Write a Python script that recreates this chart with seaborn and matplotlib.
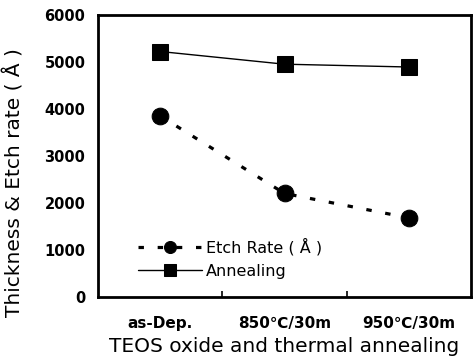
import matplotlib
matplotlib.use("Agg")
import matplotlib.pyplot as plt
import seaborn as sns
import pandas as pd
import numpy as np
from matplotlib.ticker import FixedLocator

# datos
categorias = ["as-Dep.", "850\u2103/30m", "950\u2103/30m"]
etch_rate = [3850, 2200, 1680]
annealing = [5220, 4950, 4890]

sns.set_style("ticks")
plt.rcParams['font.family'] = ['DejaVu Sans']
plt.rcParams.update({"text.color": "black", "axes.labelcolor": "black",
                     "xtick.color": "black", "ytick.color": "black"})

fig = plt.figure(figsize=(4.73, 3.62), dpi=100)
ax = fig.add_axes([0.207, 0.180, 0.789, 0.779])

x = np.arange(len(categorias))
df = pd.DataFrame({"x": x, "etch": etch_rate, "ann": annealing})

sns.lineplot(data=df, x="x", y="etch", ax=ax, color="black", linestyle=(0, (1.7, 4.3)),
             linewidth=2.3, marker="o", markersize=12, markeredgecolor="black",
             label="Etch Rate ( \u00c5 )")
sns.lineplot(data=df, x="x", y="ann", ax=ax, color="black", linestyle="-",
             linewidth=1.0, marker="s", markersize=11.5, markeredgecolor="black",
             label="Annealing")

ax.set_xlim(-0.5, 2.5)
ax.set_ylim(0, 6000)
ax.set_yticks(np.arange(0, 6001, 1000))
ax.set_xticks(x)
ax.set_xticklabels(categorias, fontsize=11, fontweight="bold")
ax.xaxis.set_minor_locator(FixedLocator([0.5, 1.5]))
ax.tick_params(axis="x", which="major", length=0, pad=14)
ax.tick_params(axis="x", which="minor", length=4, width=1.2, direction="in")
ax.tick_params(axis="y", length=0, pad=9, labelsize=10.5)
for lbl in ax.get_yticklabels():
    lbl.set_fontweight("bold")

for s in ax.spines.values():
    s.set_linewidth(2.0)
    s.set_color("black")
    s.set_visible(True)

ax.set_xlabel("TEOS oxide and thermal annealing", fontsize=14.5, labelpad=4)
ax.set_ylabel("Thickness & Etch rate ( \u00c5 )", fontsize=14.5)
ax.yaxis.set_label_coords(-0.196, 0.405)

ax.legend(loc="lower left", bbox_to_anchor=(0.07, 0.012), frameon=False,
          fontsize=11.5, handlelength=4.0, handletextpad=0.25, labelspacing=0.55,
          markerscale=0.72)

fig.savefig("out.png", dpi=100)
